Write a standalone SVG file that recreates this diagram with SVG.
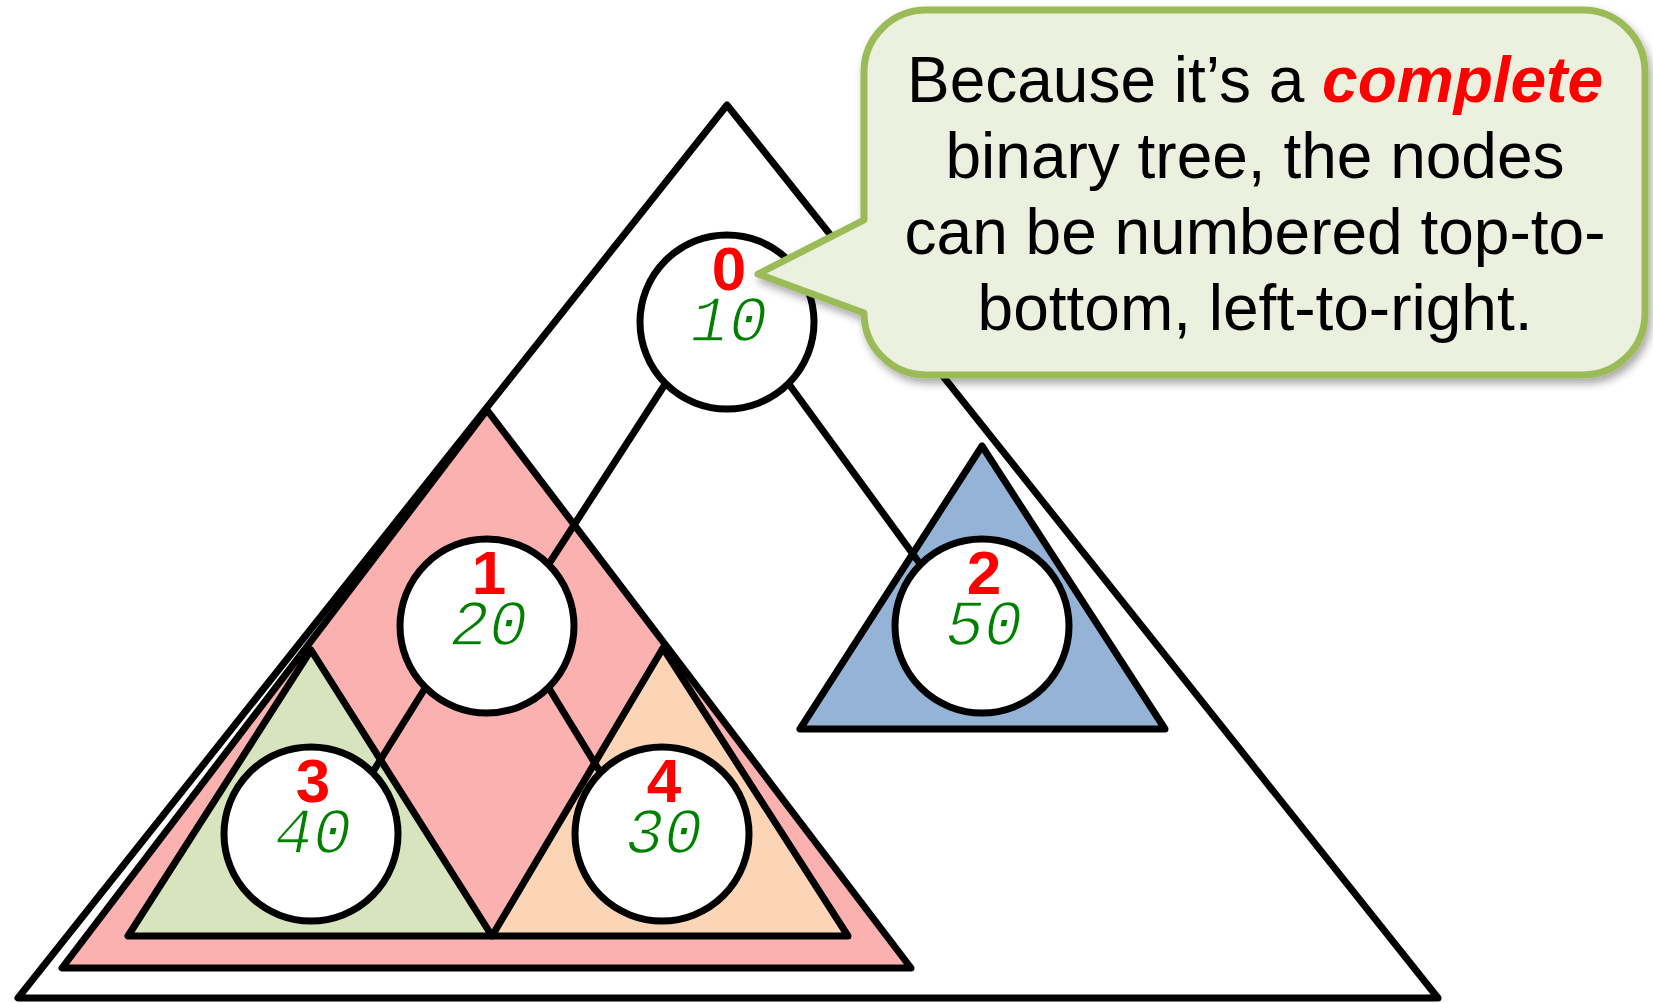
<svg xmlns="http://www.w3.org/2000/svg" width="1653" height="1003" viewBox="0 0 1653 1003">
<defs>
<style>
.tri{stroke:#000;stroke-width:7;stroke-linejoin:round}
.edge{stroke:#000;stroke-width:7;fill:none}
.node circle{fill:#fff;stroke:#000;stroke-width:7}
.idx{font-family:"Liberation Sans",Arial,sans-serif;font-weight:bold;font-size:62px;fill:#ff0000;text-anchor:middle}
.val{font-family:"Liberation Mono","Courier New",monospace;font-style:italic;font-size:64px;fill:#008000;stroke:#fff;stroke-width:1.6;text-anchor:middle}
.call{font-family:"Liberation Sans",Arial,sans-serif;font-size:64px;fill:#000;text-anchor:middle}
.em{font-weight:bold;font-style:italic;fill:#ff0000}
</style>
<filter id="sh" x="-10%" y="-10%" width="125%" height="130%">
<feDropShadow dx="3" dy="5" stdDeviation="4" flood-color="#000" flood-opacity="0.35"/>
</filter>
</defs>
<rect width="1653" height="1003" fill="#fff"/>
<g id="subtrees">
<polygon class="tri" points="727,105 18,998 1438,998" fill="none"/>
<polygon class="tri" points="487,410 62,968 911,968" fill="#FAB1AF"/>
<polygon class="tri" points="311,650 128,936 492,936" fill="#D7E4BD"/>
<polygon class="tri" points="663,648 492,936 848,936" fill="#FBD5B5"/>
<polygon class="tri" points="982,446 800,729 1165,729" fill="#95B3D7"/>
</g>
<g id="connectors">
<line class="edge" x1="665.5" y1="383.5" x2="548.5" y2="564.5"/>
<line class="edge" x1="788.5" y1="383.5" x2="920.5" y2="564.5"/>
<line class="edge" x1="425.5" y1="687.5" x2="372.5" y2="772.5"/>
<line class="edge" x1="548.5" y1="687.5" x2="600.5" y2="772.5"/>
</g>
<g id="node0" class="node"><circle cx="727" cy="322" r="87"/><text class="idx" x="729" y="290">0</text><text class="val" x="729" y="341">10</text></g>
<g id="node1" class="node"><circle cx="487" cy="626" r="87"/><text class="idx" x="489" y="594">1</text><text class="val" x="489" y="645">20</text></g>
<g id="node2" class="node"><circle cx="982" cy="626" r="87"/><text class="idx" x="984" y="594">2</text><text class="val" x="984" y="645">50</text></g>
<g id="node3" class="node"><circle cx="311" cy="834" r="87"/><text class="idx" x="313" y="802">3</text><text class="val" x="313" y="853">40</text></g>
<g id="node4" class="node"><circle cx="662" cy="834" r="87"/><text class="idx" x="664" y="802">4</text><text class="val" x="664" y="853">30</text></g>
<g id="callout">
<path d="M926,10 H1583 A62,62 0 0 1 1645,72 V313 A62,62 0 0 1 1583,375 H926 A62,62 0 0 1 864,313 L758,274 L864,220 V72 A62,62 0 0 1 926,10 Z" fill="#EBF1DE" stroke="#9BBB59" stroke-width="7" stroke-linejoin="round" filter="url(#sh)"/>
<text class="call" x="1255" y="102">Because it’s a <tspan class="em">complete</tspan></text>
<text class="call" x="1255" y="178">binary tree, the nodes</text>
<text class="call" x="1255" y="254">can be numbered top-to-</text>
<text class="call" x="1255" y="330">bottom, left-to-right.</text>
</g>
</svg>
